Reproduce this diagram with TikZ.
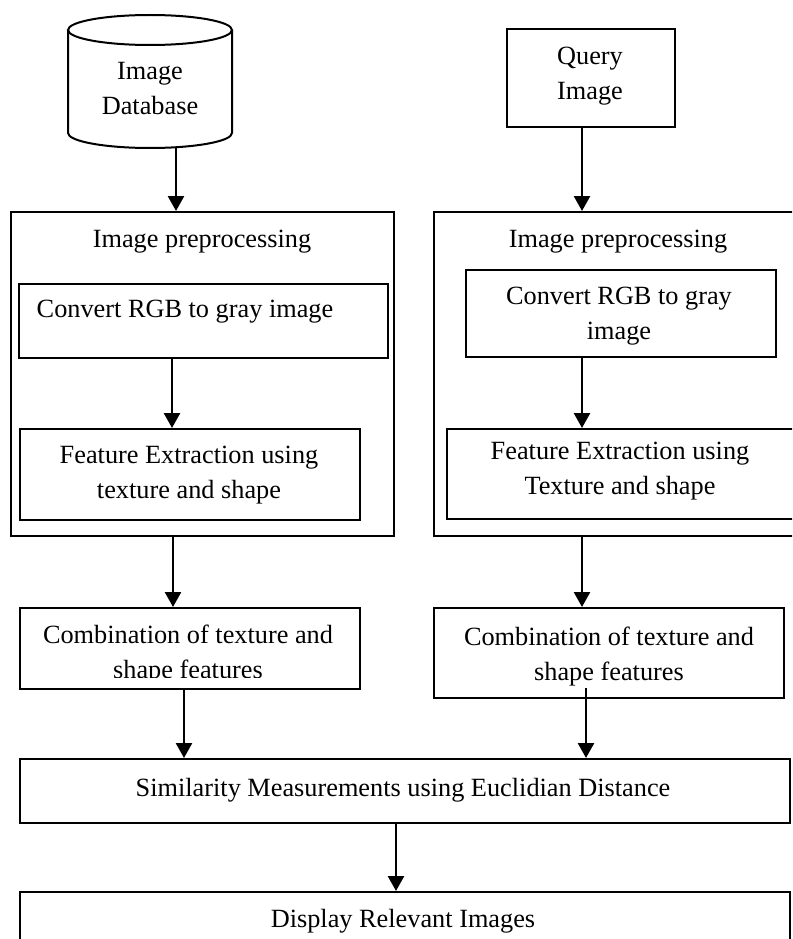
\documentclass[tikz,border=0pt]{standalone}
\usepackage{fontspec}
\setmainfont{Liberation Serif}
\usetikzlibrary{arrows.meta}
\begin{document}
\begin{tikzpicture}[x=1pt,y=1pt,
  box/.style={draw, line width=2pt, inner sep=0pt, anchor=north west},
  outer/.style={draw, line width=1.6pt, inner sep=0pt, anchor=north west},
  txt/.style={font=\fontsize{26.3}{35}\selectfont, align=center, inner sep=0pt, anchor=north},
  arr/.style={line width=2.6pt, -{Triangle[length=15pt,width=16pt]}}]
\useasboundingbox (0,0) rectangle (792,-939);
\clip (0,0) rectangle (792,-939);

% database cylinder
\draw[line width=2pt] (68,-30) -- (68,-133) arc[start angle=180,end angle=360,x radius=82,y radius=15] -- (232,-30);
\draw[line width=2pt] (150,-30) ellipse [x radius=82, y radius=15];
\node[txt] (db) at (150,-62) {Image\\Database};
\coordinate (dbout) at (176,-147.5);

% boxes
\node[box, minimum width=168pt, minimum height=98pt] (query) at (506,-28) {};
\node[outer, minimum width=383pt, minimum height=324pt] (lpre) at (10,-211) {};
\node[outer, minimum width=400pt, minimum height=324pt] (rpre) at (433,-211) {};
\node[box, minimum width=369pt, minimum height=74pt] (lconv) at (18,-283) {};
\node[box, minimum width=310pt, minimum height=87pt] (rconv) at (465,-269) {};
\node[box, minimum width=340pt, minimum height=91pt] (lfeat) at (19,-428) {};
\node[box, minimum width=400pt, minimum height=90pt] (rfeat) at (446,-428) {};
\node[box, minimum width=340pt, minimum height=81pt] (lcomb) at (19,-607) {};
\node[box, minimum width=350pt, minimum height=90pt] (rcomb) at (433,-607) {};
\node[box, minimum width=770pt, minimum height=64pt] (sim) at (19,-758) {};
\node[box, minimum width=770pt, minimum height=100pt] (disp) at (19,-891) {};

% texts
\node[txt] (tquery) at (590,-47) {Query\\Image};
\node[txt] (tlpre) at (202,-230) {Image preprocessing};
\node[txt] (trpre) at (618,-230) {Image preprocessing};
\node[txt] (tlconv) at (185,-300) {Convert RGB to gray image};
\node[txt] (trconv) at (619,-287) {Convert RGB to gray\\image};
\node[txt] (tlfeat) at (189,-446) {Feature Extraction using\\texture and shape};
\node[txt] (trfeat) at (620,-442) {Feature Extraction using\\Texture and shape};
\begin{scope}
\clip (0,-600) rectangle (400,-677);
\node[txt] (tlcomb) at (188,-625) {Combination of texture and\\shape features};
\end{scope}
\node[txt] (trcomb) at (609,-627) {Combination of texture and\\shape features};
\node[txt] (tsim) at (403,-778) {Similarity Measurements using Euclidian Distance};
\node[txt] (tdisp) at (403,-909) {Display Relevant Images};

% helper x positions
\coordinate (xq) at (582,0);
\coordinate (xl2) at (172,0);
\coordinate (xl3) at (173,0);
\coordinate (xl4) at (184,0);
\coordinate (xs) at (396,0);
\coordinate (rcombout) at (586,-688);

% connectors
\draw[arr] (dbout) -- (lpre.north -| dbout);
\draw[arr] (query.south -| xq) -- (rpre.north -| xq);
\draw[arr] (lconv.south -| xl2) -- (lfeat.north -| xl2);
\draw[arr] (rconv.south -| xq) -- (rfeat.north -| xq);
\draw[arr] (lpre.south -| xl3) -- (lcomb.north -| xl3);
\draw[arr] (rpre.south -| xq) -- (rcomb.north -| xq);
\draw[arr] (lcomb.south -| xl4) -- (sim.north -| xl4);
\draw[arr] (rcombout) -- (sim.north -| rcombout);
\draw[arr] (sim.south -| xs) -- (disp.north -| xs);
\end{tikzpicture}
\end{document}
